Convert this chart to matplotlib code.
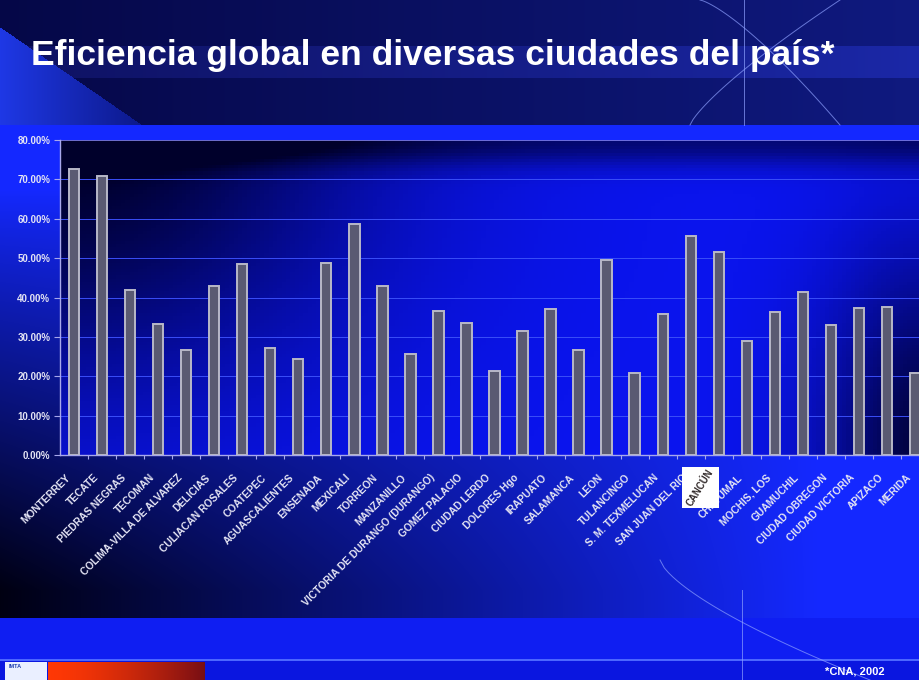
import numpy as np
import matplotlib
matplotlib.use("Agg")
import matplotlib.pyplot as plt
import matplotlib.transforms as mtrans
from matplotlib.patches import Rectangle

plt.rcParams['font.family'] = ['Liberation Sans', 'DejaVu Sans']

# %% data
cities = ['MONTERREY', 'TECATE', 'PIEDRAS NEGRAS', 'TECOMAN', 'COLIMA-VILLA DE ALVAREZ',
          'DELICIAS', 'CULIACAN ROSALES', 'COATEPEC', 'AGUASCALIENTES', 'ENSENADA',
          'MEXICALI', 'TORREON', 'MANZANILLO', 'VICTORIA DE DURANGO (DURANGO)',
          'GOMEZ PALACIO', 'CIUDAD LERDO', 'DOLORES Hgo', 'IRAPUATO', 'SALAMANCA', 'LEON',
          'TULANCINGO', 'S. M. TEXMELUCAN', 'SAN JUAN DEL RIO', 'CANCÚN', 'CHETUMAL',
          'MOCHIS, LOS', 'GUAMUCHIL', 'CIUDAD OBREGON', 'CIUDAD VICTORIA', 'APIZACO', 'MERIDA']
eficiencia = [72.6, 70.9, 41.9, 33.2, 26.7, 43.0, 48.5, 27.3, 24.3, 48.7,
              58.7, 43.0, 25.6, 36.6, 33.4, 21.3, 31.4, 37.2, 26.6, 49.4,
              20.7, 35.8, 55.7, 51.6, 28.9, 36.2, 41.4, 33.1, 37.3, 37.6, 20.8]
yticks = list(range(0, 90, 10))
titulo = 'Eficiencia global en diversas ciudades del país*'
fuente = '*CNA, 2002'

W, H = 920, 680

# %% slide background (pixel image)
yy, xx = np.mgrid[0:H, 0:W].astype(float)

def lerp(c1, c2, t):
    c1 = np.array(c1); c2 = np.array(c2)
    return c1 * (1 - t[..., None]) + c2 * t[..., None]

img = np.zeros((H, W, 3))
# top header
top = lerp([0.02, 0.03, 0.28], [0.06, 0.10, 0.50], xx / W)
band = (yy > 45) & (yy < 78)
top[band] = top[band] * 1.25 + 0.03
tri = (yy > 27) & (xx < (yy - 27) * 1.45)
top[tri] = lerp([0.12, 0.22, 0.90], [0.05, 0.10, 0.55], np.clip(xx / 140, 0, 1))[tri]
img[:] = top
# chart area
t = np.clip((yy - 190) / 400, 0, 1) ** 0.9 * np.clip(1 - xx / 820, 0, 1)
chart = lerp([0.08, 0.16, 1.0], [0.0, 0.0, 0.07], t)
m = (yy >= 125) & (yy < 618)
img[m] = chart[m]
# lower bright band and footer strip
img[(yy >= 618) & (yy < 660)] = [0.06, 0.12, 0.95]
img[(yy >= 660)] = [0.04, 0.09, 0.88]
img[(yy >= 659) & (yy < 661)] = [0.30, 0.40, 1.0]
red = lerp([1.0, 0.22, 0.02], [0.45, 0.05, 0.08], np.clip((xx - 48) / 160, 0, 1) ** 1.5)
rm = (yy >= 662) & (xx >= 48) & (xx < 205)
img[rm] = red[rm]
img[(yy >= 662) & (xx >= 5) & (xx < 47)] = [0.92, 0.94, 1.0]

fig = plt.figure(figsize=(W / 100, H / 100), dpi=100)
bg = fig.add_axes([0, 0, 1, 1])
bg.imshow(img, extent=(0, W, H, 0), aspect='auto', interpolation='bilinear')
bg.set_xlim(0, W); bg.set_ylim(H, 0); bg.axis('off')

# decorative thin lines
th = np.linspace(0, 1, 50)
deco = dict(color='#8da0ff', lw=0.7, alpha=0.7)
bg.plot([744, 744], [0, 125], **deco)
bg.plot(690 + 150 * th, 125 - 125 * th ** 0.8, **deco)
bg.plot(700 + 140 * th, 125 * th ** 1.3, **deco)
bg.plot([742, 742], [590, 680], **deco)
bg.plot(660 + 210 * th, 560 + 120 * th ** 0.7, **deco)
bg.text(9, 666, 'IMTA', fontsize=4, color='#1a3cb0', weight='bold', va='center')

# %% chart
ax = fig.add_axes([60 / W, (H - 455) / H, 869 / W, 315 / H])
x = np.arange(len(cities))
ax.set_xlim(-0.5, len(cities) - 0.5)
ax.set_ylim(0, 80)

u, v = np.meshgrid(np.linspace(0, 1, 200), np.linspace(1, 0, 100))
dark = (np.exp(-(u ** 2 / 0.12 + (1 - v) ** 2 / 0.6))
        + 0.9 * np.exp(-((1 - u) ** 2 / 0.015 + v ** 2 / 0.4))
        + 0.6 * np.exp(-(1 - v) ** 2 / 0.006))
dark = np.clip(dark, 0, 1)
grad = lerp([0.04, 0.08, 0.94], [0.0, 0.0, 0.17], dark)
ax.imshow(grad, extent=(-0.5, len(cities) - 0.5, 0, 80), aspect='auto', zorder=0)

for yv in yticks[1:-1]:
    ax.axhline(yv, color='#3a4ef8', lw=0.7, zorder=1)
ax.axhline(80, color='#8c8cff', lw=1.1, zorder=1)

ax.bar(x, eficiencia, width=0.37, color='#5a5a72', edgecolor='#b8b8c8', linewidth=1.4, zorder=3)

for s in ['top', 'right']:
    ax.spines[s].set_visible(False)
for s in ['left', 'bottom']:
    ax.spines[s].set_color('#a8a8ec')
    ax.spines[s].set_linewidth(1.0)

ax.set_yticks(yticks)
ax.set_yticklabels([f'{v:.2f}%' for v in yticks], fontsize=7, weight='bold', color='#e4e4f4')
ax.tick_params(axis='y', colors='#a8a8ec', labelcolor='#e4e4f4', length=4, width=0.8, pad=3)

# CANCÚN label is drawn separately on a white box (as in the slide)
ic = cities.index('CANCÚN')
labels = [c if i != ic else '' for i, c in enumerate(cities)]
ax.set_xticks(x)
ax.set_xticklabels(labels, rotation=45, ha='right', rotation_mode='anchor',
                   fontsize=7.4, weight='bold', color='#e4e4f4')
ax.tick_params(axis='x', which='major', length=0, pad=9)
ax.set_xticks(x[:-1] + 0.5, minor=True)
ax.tick_params(axis='x', which='minor', length=3, width=0.8, colors='#a8a8ec')

shift = mtrans.ScaledTranslation(-0.09, -0.05, fig.dpi_scale_trans)
for lab in ax.get_xticklabels():
    lab.set_transform(lab.get_transform() + shift)

# white box placed relative to the tick position (figure pixels)
px, _ = ax.transData.transform((ic, 0))
box = Rectangle((px - 37, H - 508), 37, 41, facecolor='white', edgecolor='none', zorder=5)
box.set_transform(mtrans.IdentityTransform())
fig.add_artist(box)
fig.text((px - 18.5) / W, 1 - 488 / H, 'CANCÚN', rotation=58, ha='center', va='center',
         fontsize=6.9, weight='bold', color='#302828', zorder=6)

fig.text(31 / W, 1 - 55 / H, titulo, fontsize=25.5, weight='bold', color='white', va='center')
fig.text(885 / W, 1 - 671 / H, fuente, fontsize=8, weight='bold', color='white',
         ha='right', va='center')

fig.savefig('out.png', dpi=100)
